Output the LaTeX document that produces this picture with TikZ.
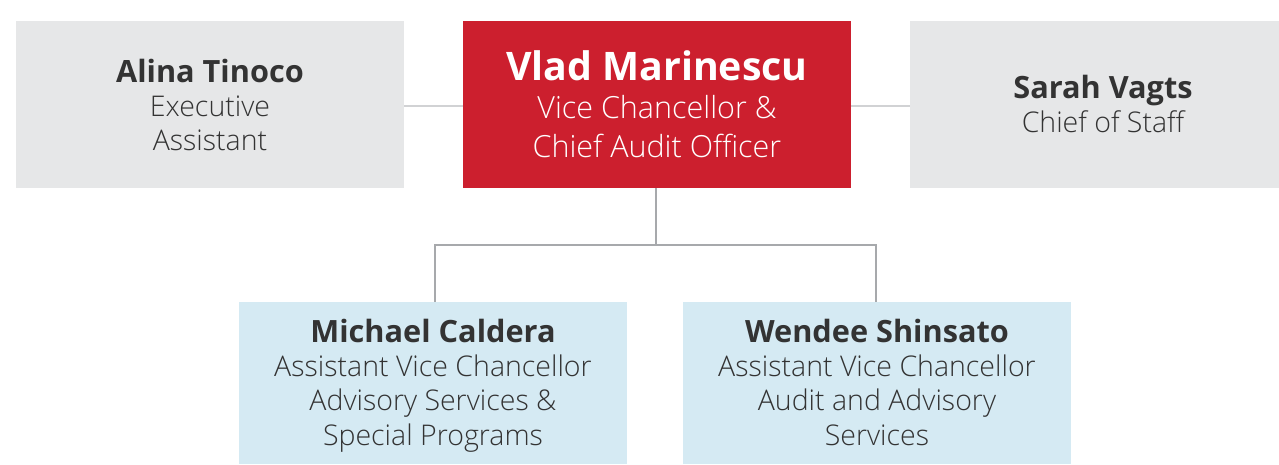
\documentclass[tikz,border=0pt]{standalone}
\usepackage{fontspec}
\setmainfont{Open Sans}
\newfontfamily\lightfont{Open Sans Light}
\definecolor{boxgray}{HTML}{E6E7E8}
\definecolor{boxred}{HTML}{CC1F2E}
\definecolor{boxblue}{HTML}{D5EAF3}
\definecolor{txt}{HTML}{333333}
\definecolor{lineA}{HTML}{D1D2D4}
\definecolor{lineB}{HTML}{A7A9AC}
\tikzset{
  box/.style={rectangle, inner sep=0pt, minimum width=388pt, minimum height=167pt, align=center, text=txt},
  graybox/.style={box, fill=boxgray, font=\lightfont\fontsize{28.5}{34.3}\selectfont},
  redbox/.style={box, fill=boxred, text=white, font=\lightfont\fontsize{30.5}{39.5}\selectfont},
  bluebox/.style={box, fill=boxblue, minimum height=162pt, font=\lightfont\fontsize{28.5}{34.3}\selectfont},
  link/.style={draw=lineA, line width=2pt},
  tree/.style={draw=lineB, line width=2.5pt}
}
\newcommand{\nm}[1]{{\rmfamily\bfseries\fontsize{30.7}{35}\selectfont #1}}
\newcommand{\bignm}[1]{{\rmfamily\bfseries\fontsize{39.3}{40}\selectfont #1}}
\begin{document}
\begin{tikzpicture}[x=1pt,y=-1pt]
\useasboundingbox (0,0) rectangle (1279,464);
\node[graybox] (alina) at (210,104.5) {};
\node[txt, align=center, font=\lightfont\fontsize{28.5}{34.3}\selectfont, inner sep=0pt] (alinat) at (210,105) {\nm{Alina Tinoco}\\Executive\\Assistant};
\node[redbox] (vlad) at (657,104.5) {\bignm{Vlad Marinescu}\\[-2pt]Vice Chancellor \&\\Chief Audit Officer};
\node[graybox, minimum width=369pt] (sarah) at (1094.5,104.5) {};
\node[txt, align=center, font=\lightfont\fontsize{28.5}{34.3}\selectfont, inner sep=0pt] (saraht) at (1103,104) {\nm{Sarah Vagts}\\Chief of Staff};
\node[bluebox] (michael) at (433,383) {};
\node[txt, align=center, font=\lightfont\fontsize{28.5}{34.3}\selectfont, inner sep=0pt] (michaelt) at (433,385.5) {\nm{Michael Caldera}\\Assistant Vice Chancellor\\Advisory Services \&\\Special Programs};
\node[bluebox] (wendee) at (877,383) {};
\node[txt, align=center, font=\lightfont\fontsize{28.5}{34.3}\selectfont, inner sep=0pt] (wendeet) at (877,385.5) {\nm{Wendee Shinsato}\\Assistant Vice Chancellor\\Audit and Advisory\\Services\vphantom{gy}};
\coordinate (bus) at (656,245);
\draw[link] (alina.east |- 0,106) -- (vlad.west |- 0,106);
\draw[link] (vlad.east |- 0,106) -- (sarah.west |- 0,106);
\draw[tree] (vlad.south -| bus) -- (bus);
\draw[tree] (michael.north -| 435,0) |- (bus) -| (wendee.north -| 876,0);
\end{tikzpicture}
\end{document}
